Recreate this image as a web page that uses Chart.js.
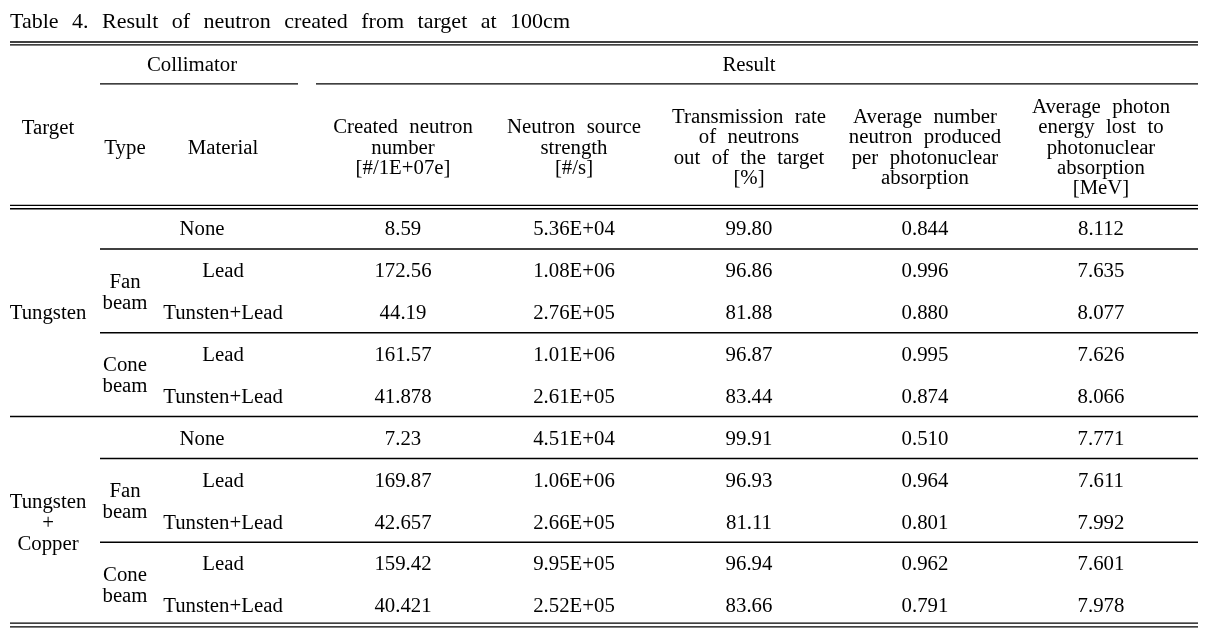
<!DOCTYPE html>
<html>
<head>
<meta charset="utf-8">
<script src="https://cdn.jsdelivr.net/npm/chart.js@4.4.1/dist/chart.umd.min.js"></script>
<style>
  html, body { margin: 0; padding: 0; background: #fff; }
  #wrap { width: 1208px; height: 639px; position: relative; }
</style>
</head>
<body>
<div id="wrap"><canvas id="myChart"></canvas></div>
<script>
// table data
const title = 'Table 4. Result of neutron created from target at 100cm';
const groupHeaders = ['Collimator', 'Result'];
const columnHeaders = [
  'Type',
  'Material',
  'Created neutron\nnumber\n[#/1E+07e]',
  'Neutron source\nstrength\n[#/s]',
  'Transmission rate\nof neutrons\nout of the target\n[%]',
  'Average number\nneutron produced\nper photonuclear\nabsorption',
  'Average photon\nenergy lost to\nphotonuclear\nabsorption\n[MeV]'
];
const targets = ['Tungsten', 'Tungsten\n+\nCopper'];
const beamTypes = ['Fan\nbeam', 'Cone\nbeam', 'Fan\nbeam', 'Cone\nbeam'];
const materials = ['None', 'Lead', 'Tunsten+Lead', 'Lead', 'Tunsten+Lead',
                   'None', 'Lead', 'Tunsten+Lead', 'Lead', 'Tunsten+Lead'];
const createdNeutron = ['8.59', '172.56', '44.19', '161.57', '41.878',
                        '7.23', '169.87', '42.657', '159.42', '40.421'];
const sourceStrength = ['5.36E+04', '1.08E+06', '2.76E+05', '1.01E+06', '2.61E+05',
                        '4.51E+04', '1.06E+06', '2.66E+05', '9.95E+05', '2.52E+05'];
const transmission = ['99.80', '96.86', '81.88', '96.87', '83.44',
                      '99.91', '96.93', '81.11', '96.94', '83.66'];
const avgNeutron = ['0.844', '0.996', '0.880', '0.995', '0.874',
                    '0.510', '0.964', '0.801', '0.962', '0.791'];
const avgEnergy = ['8.112', '7.635', '8.077', '7.626', '8.066',
                   '7.771', '7.611', '7.992', '7.601', '7.978'];

// layout (x in pixels, y in row units: data rows are 0..9)
const colX = [48, 125, 223, 403, 574, 749, 925, 1101];
const noneX = 202;
const groupX = [192, 749];
const groupRow = -3.91;
const targetHeadRow = -2.41;
const headRow = -1.95;
const titleRow = -4.96;
const FONT = '"Liberation Serif", "Times New Roman", serif';

// horizontal rules: [x0, x1, row]
const rules = [
  [10, 1198, -4.44], [10, 1198, -4.37],
  [100, 298, -3.44], [316, 1198, -3.44],
  [10, 1198, -0.54], [10, 1198, -0.46],
  [100, 1198, 0.5], [100, 1198, 2.5],
  [10, 1198, 4.5],
  [100, 1198, 5.5], [100, 1198, 7.5],
  [10, 1198, 9.43], [10, 1198, 9.52]
];

function cellSet(texts, xs, rows, gap) {
  return {
    texts: texts,
    lineGap: gap,
    data: texts.map((t, i) => ({ x: Array.isArray(xs) ? xs[i] : xs, y: rows[i] })),
    pointRadius: 0,
    pointHoverRadius: 0
  };
}

let rowIdx = materials.map((m, i) => i);
let resultCols = [createdNeutron, sourceStrength, transmission, avgNeutron, avgEnergy];

let datasets = [
  cellSet(groupHeaders, groupX, [groupRow, groupRow], 20),
  cellSet(['Target'], colX[0], [targetHeadRow], 20),
  cellSet(columnHeaders, colX.slice(1), columnHeaders.map(() => headRow), 20.2),
  cellSet(targets, colX[0], [2, 7], 21),
  cellSet(beamTypes, colX[1], [1.5, 3.5, 6.5, 8.5], 21),
  cellSet(materials, materials.map(m => m === 'None' ? noneX : colX[2]), rowIdx, 21)
];
resultCols.forEach((col, c) => {
  datasets.push(cellSet(col, colX[3 + c], rowIdx, 21));
});

// canvas 'middle' sits a little high for this font, nudge down
const TEXT_SHIFT = 2;

function drawLines(ctx, text, x, y, gap) {
  let lines = String(text).split('\n');
  let top = y - (lines.length - 1) * gap / 2 + TEXT_SHIFT;
  lines.forEach((ln, k) => {
    ctx.save();
    ctx.translate(x, top + k * gap);
    ctx.scale(1.04, 1);
    ctx.fillText(ln, 0, 0);
    ctx.restore();
  });
}

//draws the rules and cell texts at the points placed by the scales
const tablePlugin = {
  id: 'tableText',
  afterDatasetsDraw(chart) {
    const ctx = chart.ctx;
    const xs = chart.scales.x;
    const ys = chart.scales.y;
    ctx.save();
    ctx.strokeStyle = '#000';
    ctx.fillStyle = '#000';
    ctx.lineWidth = 1.4;
    rules.forEach(r => {
      let py = ys.getPixelForValue(r[2]);
      ctx.beginPath();
      ctx.moveTo(xs.getPixelForValue(r[0]), py);
      ctx.lineTo(xs.getPixelForValue(r[1]), py);
      ctx.stroke();
    });

    // title
    ctx.font = '22px ' + FONT;
    ctx.textAlign = 'left';
    ctx.textBaseline = 'middle';
    let plain = ctx.measureText(title).width;
    let gaps = title.split(' ').length - 1;
    ctx.wordSpacing = Math.max(0, (560 - plain) / gaps) + 'px';
    ctx.fillText(title, xs.getPixelForValue(10), ys.getPixelForValue(titleRow) + TEXT_SHIFT);

    ctx.font = '20px ' + FONT;
    ctx.textAlign = 'center';
    ctx.wordSpacing = '6px';
    chart.data.datasets.forEach((ds, d) => {
      const meta = chart.getDatasetMeta(d);
      meta.data.forEach((pt, i) => {
        drawLines(ctx, ds.texts[i], pt.x, pt.y, ds.lineGap);
      });
    });
    ctx.restore();
  }
};

const ctx = document.getElementById('myChart').getContext('2d');
const myChart = new Chart(ctx, {
  type: 'scatter',
  data: { datasets: datasets },
  options: {
    responsive: true,
    maintainAspectRatio: false,
    animation: false,
    devicePixelRatio: 1,
    layout: { padding: 0 },
    plugins: { legend: { display: false }, tooltip: { enabled: false }, title: { display: false } },
    scales: {
      x: { type: 'linear', min: 0, max: 1208, display: false },
      y: { type: 'linear', min: -228 / 41.9, max: (639 - 228) / 41.9, reverse: true, display: false }
    }
  },
  plugins: [tablePlugin]
});
</script>
</body>
</html>
